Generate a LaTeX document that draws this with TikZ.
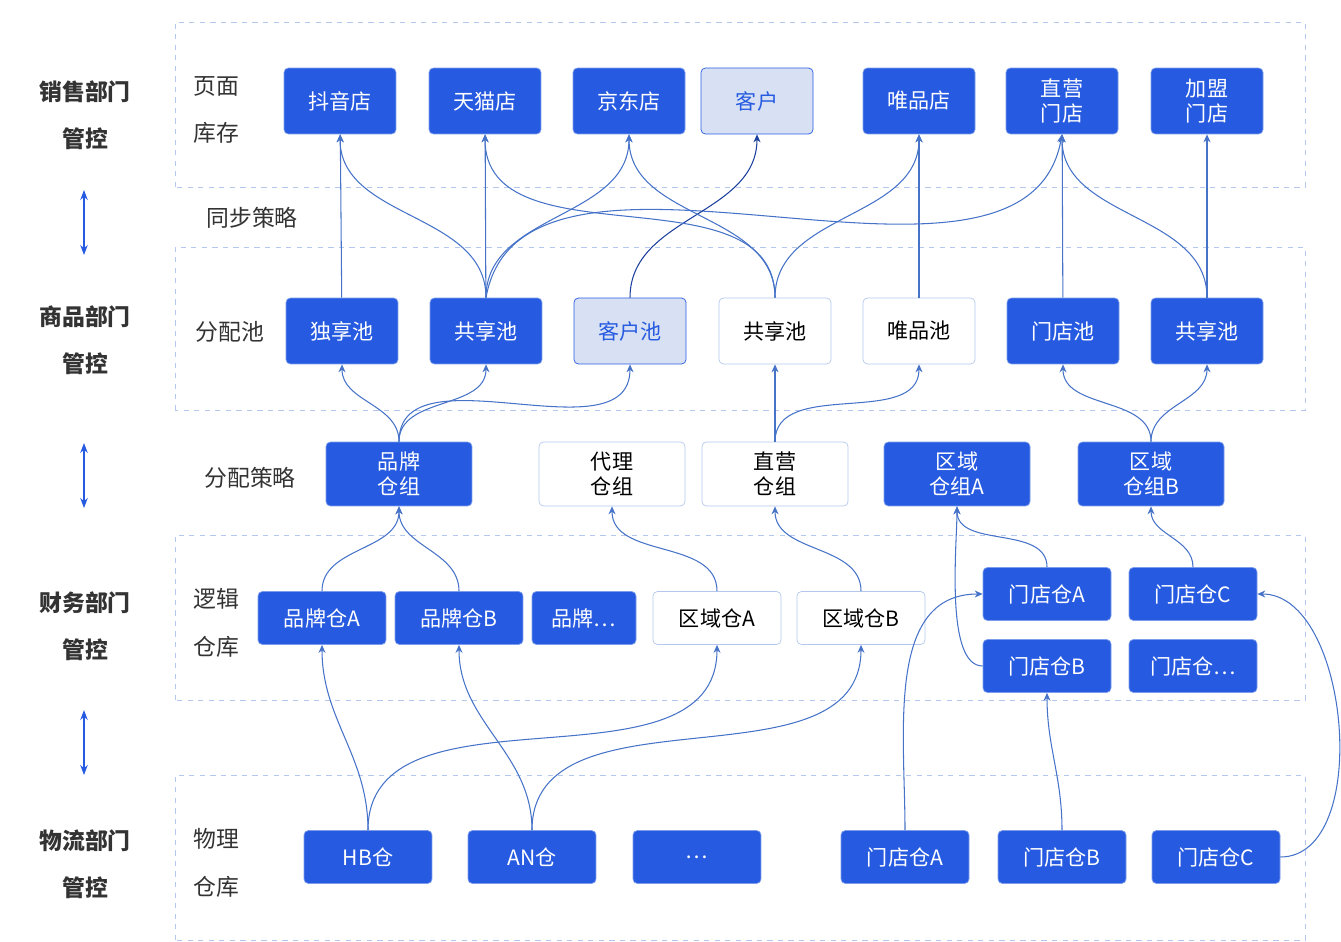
\documentclass[tikz,border=0pt]{standalone}
\usepackage{fontspec}
\setmainfont{Noto Sans CJK SC}
\usetikzlibrary{arrows.meta, positioning}
\definecolor{blu}{RGB}{38, 90, 224}
\definecolor{lightblu}{RGB}{216, 225, 244}
\definecolor{edgeblu}{RGB}{70, 115, 200}
\definecolor{bandblu}{RGB}{180, 200, 238}
\tikzset{
    bluenode/.style = {draw=blu!60, fill=blu, text=white, rounded corners=0.25em, inner sep=0em,
      font=\fontsize{12}{14}\selectfont, align=center},
    lightnode/.style = {bluenode, draw=blu, fill=lightblu, text=blu},
    whitenode/.style = {bluenode, draw=bandblu, fill=white, text=black},
    topsize/.style = {minimum width=2.24cm, minimum height=1.32cm},
    groupsize/.style = {minimum width=2.92cm, minimum height=1.28cm},
    whsize/.style = {minimum width=2.56cm, minimum height=1.06cm},
    band/.style = {draw=bandblu, dashed, thin},
    deptnode/.style = {font=\fontsize{13}{27}\selectfont\bfseries, text=black!80, align=center},
    rownode/.style = {font=\fontsize{13}{27}\selectfont, text=black!80, align=center},
    connect/.style = {edgeblu, semithick, -{Stealth[length=1.6mm, width=1.4mm]}},
    updown/.style = {blu, thick, {Stealth[length=2mm]}-{Stealth[length=2mm]}}
}
\begin{document}
\begin{tikzpicture}[x=0.02cm, y=0.02cm]
\useasboundingbox (0,0) rectangle (1341,941);
% bands
\draw[band] (175,754) rectangle (1305,919);
\draw[band] (175,531) rectangle (1305,694);
\draw[band] (175,241) rectangle (1305,406);
\draw[band] (175,1) rectangle (1305,166);

% departments
\node[deptnode] at (85,826) {销售部门\\管控};
\node[deptnode] at (85,601) {商品部门\\管控};
\node[deptnode] at (85,315) {财务部门\\管控};
\node[deptnode] at (85,77) {物流部门\\管控};
\draw[updown] (84,751) -- (84,686);
\draw[updown] (84,498) -- (84,433);
\draw[updown] (84,231) -- (84,166);

\node[rownode] at (216,831) {页面\\库存};
\node[rownode] at (252,723) {同步策略};
\node[rownode] at (230,609) {分配池};
\node[rownode] at (250,463) {分配策略};
\node[rownode] at (216,318) {逻辑\\仓库};
\node[rownode] at (216,78) {物理\\仓库};

% shops
\node[bluenode, topsize] (dy) at (340,840) {抖音店};
\node[bluenode, topsize] (tm) at (485,840) {天猫店};
\node[bluenode, topsize] (jd) at (629,840) {京东店};
\node[lightnode, topsize] (kh) at (757,840) {客户};
\node[bluenode, topsize] (wp) at (919,840) {唯品店};
\node[bluenode, topsize] (zy) at (1062,840) {直营\\门店};
\node[bluenode, topsize] (jm) at (1207,840) {加盟\\门店};

% pools
\node[bluenode, topsize] (dxc) at (342,610) {独享池};
\node[bluenode, topsize] (gxc1) at (486,610) {共享池};
\node[lightnode, topsize] (khc) at (630,610) {客户池};
\node[whitenode, topsize] (gxc2) at (775,610) {共享池};
\node[whitenode, topsize] (wpc) at (919,610) {唯品池};
\node[bluenode, topsize] (mdc) at (1063,610) {门店池};
\node[bluenode, topsize] (gxc3) at (1207,610) {共享池};

% groups
\node[bluenode, groupsize] (ppz) at (399,467) {品牌\\仓组};
\node[whitenode, groupsize] (dlz) at (612,467) {代理\\仓组};
\node[whitenode, groupsize] (zyz) at (775,467) {直营\\仓组};
\node[bluenode, groupsize] (qyza) at (957,467) {区域\\仓组A};
\node[bluenode, groupsize] (qyzb) at (1151,467) {区域\\仓组B};

% logical
\node[bluenode, whsize] (ppa) at (322,323) {品牌仓A};
\node[bluenode, whsize] (ppb) at (459,323) {品牌仓B};
\node[bluenode, whsize, minimum width=2.08cm] (ppx) at (584,323) {品牌…};
\node[whitenode, whsize] (qya) at (717,323) {区域仓A};
\node[whitenode, whsize] (qyb) at (861,323) {区域仓B};
\node[bluenode, whsize] (lmda) at (1047,347) {门店仓A};
\node[bluenode, whsize] (lmdc) at (1193,347) {门店仓C};
\node[bluenode, whsize] (lmdb) at (1047,275) {门店仓B};
\node[bluenode, whsize] (lmdx) at (1193,275) {门店仓…};

% physical
\node[bluenode, whsize] (hb) at (368,84) {HB仓};
\node[bluenode, whsize] (an) at (532,84) {AN仓};
\node[bluenode, whsize] (etc) at (697,84) {…};
\node[bluenode, whsize] (wmda) at (905,84) {门店仓A};
\node[bluenode, whsize] (wmdb) at (1062,84) {门店仓B};
\node[bluenode, whsize] (wmdc) at (1216,84) {门店仓C};

% pools -> shops
\draw[connect] (dxc) -- (dy);
\draw[connect] (gxc1.north) to[out=90, in=-90] (dy.south);
\draw[connect] (gxc1) -- (tm);
\draw[connect] (gxc1.north) to[out=90, in=-90] (jd.south);
\draw[connect] (gxc1.north) to[out=80, in=-100, looseness=0.9] (zy.south);
\draw[connect, blu!70!black] (khc.north) to[out=90, in=-90] (kh.south);
\draw[connect] (gxc2.north) to[out=90, in=-90] (tm.south);
\draw[connect] (gxc2.north) to[out=90, in=-90] (jd.south);
\draw[connect] (gxc2.north) to[out=90, in=-90] (wp.south);
\draw[connect] (wpc) -- (wp);
\draw[connect] (mdc) -- (zy);
\draw[connect] (gxc3.north) to[out=90, in=-90] (zy.south);
\draw[connect] (gxc3) -- (jm);

% groups -> pools
\draw[connect] (ppz.north) to[out=90, in=-90] (dxc.south);
\draw[connect] (ppz.north) to[out=90, in=-90] (gxc1.south);
\draw[connect] (ppz.north) to[out=90, in=-90] (khc.south);
\draw[connect] (zyz) -- (gxc2);
\draw[connect] (zyz.north) to[out=90, in=-90] (wpc.south);
\draw[connect] (qyzb.north) to[out=90, in=-90] (mdc.south);
\draw[connect] (qyzb.north) to[out=90, in=-90] (gxc3.south);

% logical -> groups
\draw[connect] (ppa.north) to[out=90, in=-90] (ppz.south);
\draw[connect] (ppb.north) to[out=90, in=-90] (ppz.south);
\draw[connect] (qya.north) to[out=90, in=-90] (dlz.south);
\draw[connect] (qyb.north) to[out=90, in=-90] (zyz.south);
\draw[connect] (lmda.north) to[out=90, in=-90] (qyza.south);
\draw[connect] (lmdb.west) to[out=180, in=-90, looseness=0.6] (qyza.south);
\draw[connect] (lmdc.north) to[out=90, in=-90] (qyzb.south);

% physical -> logical
\draw[connect] (hb.north) to[out=90, in=-90] (ppa.south);
\draw[connect] (hb.north) to[out=90, in=-90] (qya.south);
\draw[connect] (an.north) to[out=90, in=-90] (ppb.south);
\draw[connect] (an.north) to[out=90, in=-90] (qyb.south);
\draw[connect] (wmda.north) to[out=90, in=180] (lmda.west);
\draw[connect] (wmdb.north) to[out=90, in=-90] (lmdb.south);
\draw[connect] (wmdc.east) to[out=0, in=0, looseness=0.9] (lmdc.east);
\end{tikzpicture}
\end{document}
